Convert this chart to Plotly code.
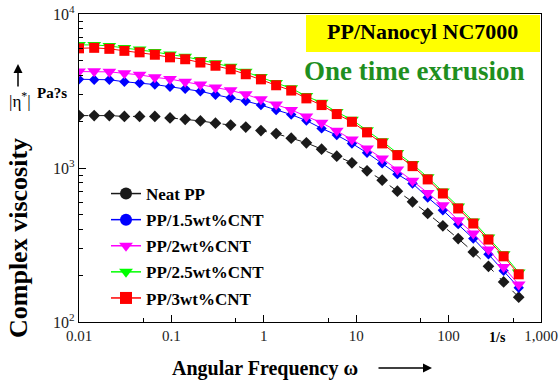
import plotly.graph_objects as go

freq = [0.01, 0.0146, 0.0213, 0.031, 0.0453, 0.0662, 0.0966, 0.141, 0.206, 0.300,
        0.438, 0.638, 0.931, 1.36, 1.98, 2.89, 4.22, 6.16, 8.99, 13.1,
        19.1, 27.9, 40.7, 59.4, 86.7, 127, 185, 270, 394, 574]

neat_pp = [2189, 2189, 2189, 2163, 2163, 2163, 2115, 2071, 2022, 1956,
           1899, 1843, 1749, 1672, 1563, 1457, 1326, 1194, 1080, 958,
           834, 707, 603, 507, 421, 348, 285, 230, 182, 145]
pp_15 = [3769, 3741, 3741, 3631, 3561, 3482, 3370, 3265, 3149, 2989,
         2858, 2720, 2562, 2377, 2222, 2032, 1808, 1635, 1444, 1254,
         1071, 912, 794, 644, 532, 432, 348, 275, 215, 167]
pp_2 = [4229, 4242, 4210, 4117, 4025, 3878, 3780, 3625, 3482, 3329,
        3192, 3007, 2794, 2581, 2384, 2163, 1965, 1744, 1533, 1340,
        1154, 979, 825, 689, 573, 458, 375, 296, 228, 175]
pp_25 = [6300, 6300, 6200, 6020, 5880, 5670, 5450, 5280, 5030, 4790,
         4540, 4210, 3900, 3570, 3290, 2930, 2650, 2310, 2060, 1760,
         1490, 1250, 1060, 870, 705, 563, 450, 354, 275, 210]
pp_3 = [5985, 6030, 5940, 5765, 5638, 5439, 5231, 5084, 4840, 4613,
        4371, 4062, 3763, 3445, 3183, 2832, 2562, 2239, 1995, 1703,
        1444, 1212, 1028, 843, 683, 546, 436, 343, 267, 204]

names = ["Neat PP", "PP/1.5wt%CNT", "PP/2wt%CNT", "PP/2.5wt%CNT", "PP/3wt%CNT"]
series = [neat_pp, pp_15, pp_2, pp_25, pp_3]
colors = ["#1a1a1a", "#0000ff", "#ff00ff", "#00ff00", "#ff0000"]
plot_symbols = ["diamond", "diamond", "triangle-down", "triangle-down", "square"]
plot_sizes = [9, 8, 12, 12, 10]
legend_symbols = ["circle", "circle", "triangle-down", "triangle-down", "square"]
dashes = ["dash", "solid", "solid", "solid", "solid"]

xticks = [0.01, 0.1, 1, 10, 100, 1000]
xticktext = ["0.01", "0.1", "1", "10", "100", "1,000"]
yticks = [100, 1000, 10000]
yticktext = ["10<sup>2</sup>", "10<sup>3</sup>", "10<sup>4</sup>"]

W, H = 559, 386
L, R, T, B = 79, 18, 14, 64
PW, PH = W - L - R, H - T - B


def px(x):
    return (x - L) / PW


def py(y):
    return (H - B - y) / PH


fig = go.Figure()
for i in range(5):
    fig.add_trace(go.Scatter(
        x=freq, y=series[i], mode="lines+markers", showlegend=False,
        line=dict(color=colors[i], width=1, dash=dashes[i]),
        marker=dict(symbol=plot_symbols[i], size=plot_sizes[i], color=colors[i]),
    ))
for i in range(5):
    fig.add_trace(go.Scatter(
        x=[None], y=[None], mode="lines+markers", name=names[i], showlegend=True,
        legendgroup="g%d" % i,
        line=dict(color=colors[i], width=1.5),
        marker=dict(symbol=legend_symbols[i], size=12, color=colors[i]),
    ))

serif = "Times New Roman, Liberation Serif, serif"
fig.update_layout(
    width=W, height=H, margin=dict(l=L, r=R, t=T, b=B, autoexpand=False),
    paper_bgcolor="white", plot_bgcolor="white",
    font=dict(family=serif),
    showlegend=True,
    legend=dict(x=px(106), y=py(176), xanchor="left", yanchor="top",
                bgcolor="rgba(0,0,0,0)",
                font=dict(family=serif, size=17, color="black", weight="bold"),
                tracegroupgap=1, itemwidth=30),
    xaxis=dict(type="log", range=[-2, 3], tickvals=xticks, ticktext=xticktext,
               automargin=False,
               ticks="inside", ticklen=7, tickcolor="black", showgrid=False, zeroline=False,
               showline=True, linecolor="black", linewidth=1.2, mirror=True,
               tickfont=dict(family=serif, size=15, color="#222"),
               minor=dict(tickvals=[0.05, 0.5, 5, 50, 500], ticks="inside", ticklen=4,
                          tickcolor="black", showgrid=False)),
    yaxis=dict(type="log", range=[2, 4], tickvals=yticks, ticktext=yticktext,
               automargin=False,
               ticks="inside", ticklen=7, tickcolor="black", showgrid=False, zeroline=False,
               showline=True, linecolor="black", linewidth=1.2, mirror=True,
               tickfont=dict(family=serif, size=16, color="#222"),
               minor=dict(dtick="D1", ticks="inside", ticklen=4, tickcolor="black",
                          showgrid=False)),
)

fig.add_shape(type="rect", xref="paper", yref="paper",
              x0=px(306), x1=px(540), y0=py(52), y1=py(15),
              fillcolor="#ffff00", line=dict(width=0), layer="below")

ann = [
    dict(x=px(422), y=py(32), text="<b>PP/Nanocyl NC7000</b>",
         font=dict(family=serif, size=22, color="black")),
    dict(x=px(414), y=py(71), text="<b>One time extrusion</b>",
         font=dict(family=serif, size=27, color="#1f8f1f")),
    dict(x=px(52), y=py(93), text="<b>Pa?s</b>",
         font=dict(family=serif, size=15, color="black")),
    dict(x=px(20), y=py(100), text="|η<sup>*</sup>|",
         font=dict(family=serif, size=17, color="black")),
    dict(x=px(18), y=py(238), text="<b>Complex viscosity</b>", textangle=-90,
         font=dict(family=serif, size=26, color="black")),
    dict(x=px(265), y=py(368), text="<b>Angular Frequency ω</b>",
         font=dict(family=serif, size=20, color="black")),
    dict(x=px(497), y=py(337), text="<b>1/s</b>",
         font=dict(family=serif, size=14, color="black")),
]
for a in ann:
    fig.add_annotation(xref="paper", yref="paper", showarrow=False,
                       xanchor="center", yanchor="middle", **a)

fig.add_annotation(xref="paper", yref="paper", x=px(18), y=py(64), ax=0, ay=24,
                   text="", showarrow=True, arrowhead=2, arrowsize=1.2, arrowwidth=1.5,
                   arrowcolor="black")
fig.add_annotation(xref="paper", yref="paper", x=px(432), y=py(368), ax=-55, ay=0,
                   text="", showarrow=True, arrowhead=2, arrowsize=1.2, arrowwidth=1.5,
                   arrowcolor="black")

fig.write_html("out.html")
